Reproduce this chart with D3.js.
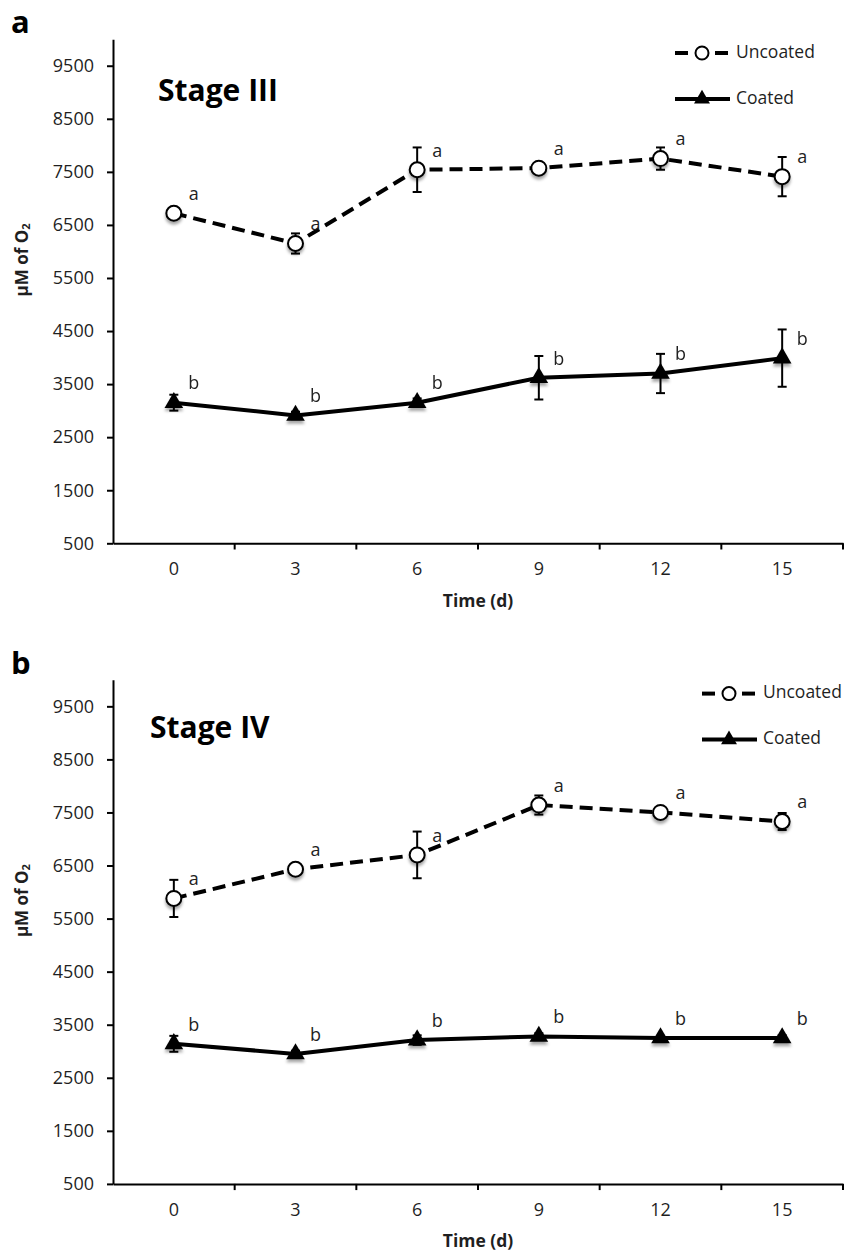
<!DOCTYPE html>
<html lang="en">

<head>
    <meta charset="UTF-8">
    <script src="https://cdnjs.cloudflare.com/ajax/libs/d3/7.8.5/d3.min.js"></script>
    <title>Oxygen - Stage III / IV</title>
    <style>
        body { margin: 0; background: #fff; }
        svg text { font-family: "Open Sans", "DejaVu Sans", sans-serif; }
    </style>
</head>

<body>
    <div id="chart"></div>
    <script>
        // values
        const days = [0, 3, 6, 9, 12, 15];
        const yTicks = [500, 1500, 2500, 3500, 4500, 5500, 6500, 7500, 8500, 9500];

        const stage3Uncoated = [6720, 6150, 7540, 7570, 7750, 7410];
        const stage3UncoatedErr = [50, 190, 420, 50, 210, 370];
        const stage3Coated = [3150, 2910, 3150, 3620, 3700, 3990];
        const stage3CoatedErr = [150, 70, 80, 410, 370, 540];

        const stage4Uncoated = [5880, 6430, 6700, 7640, 7500, 7330];
        const stage4UncoatedErr = [350, 90, 440, 180, 60, 160];
        const stage4Coated = [3140, 2950, 3210, 3280, 3250, 3250];
        const stage4CoatedErr = [150, 60, 90, 60, 40, 50];

        const uncoatedLetters = ["a", "a", "a", "a", "a", "a"];
        const coatedLetters = ["b", "b", "b", "b", "b", "b"];

        const width = 857, height = 1252;
        const txt = "#1f1f1f";

        const svg = d3.select("#chart").append("svg")
            .attr("width", width)
            .attr("height", height)
            .attr("viewBox", [0, 0, width, height]);

        const defs = svg.append("defs");
        defs.append("filter")
            .attr("id", "shadow")
            .attr("x", "-50%").attr("y", "-50%")
            .attr("width", "200%").attr("height", "200%")
            .append("feDropShadow")
            .attr("dx", 0).attr("dy", 3)
            .attr("stdDeviation", 1.6)
            .attr("flood-color", "#000")
            .attr("flood-opacity", 0.35);

        const triangle = d3.symbol().type(d3.symbolTriangle).size(150);

        function drawPanel({ top, letter, title, titleX, titleY, legendX, uncoated, uncoatedErr, coated, coatedErr }) {
            const g = svg.append("g").attr("transform", `translate(0,${top})`);

            const x = d3.scaleBand(days, [113, 843]).padding(0);
            const y = d3.scaleLinear([500, 10000], [543.3, 39.2]);
            const cx = d => x(d) + x.bandwidth() / 2;

            // panel letter + stage title
            g.append("text")
                .attr("x", 11).attr("y", 33)
                .attr("font-family", "Liberation Sans, Arial, sans-serif")
                .attr("font-weight", "bold")
                .attr("font-size", 31)
                .attr("fill", "#000")
                .text(letter);

            g.append("text")
                .attr("x", titleX).attr("y", titleY)
                .attr("font-weight", "bold")
                .attr("font-size", 30)
                .attr("fill", "#000")
                .text(title);

            // y axis
            g.append("g")
                .attr("transform", "translate(113,0)")
                .call(d3.axisLeft(y).tickValues(yTicks).tickFormat(d3.format("d"))
                    .tickSize(6).tickSizeOuter(0).tickPadding(13))
                .call(a => a.select(".domain").attr("stroke", "#000").attr("stroke-width", 2))
                .call(a => a.selectAll(".tick line").attr("stroke", "#000").attr("stroke-width", 2))
                .call(a => a.selectAll(".tick text")
                    .attr("font-size", 18)
                    .attr("font-family", null)
                    .attr("fill", txt));

            // x axis: labels centred in the bands, ticks on the band edges
            g.append("g")
                .attr("transform", "translate(0,543.3)")
                .call(d3.axisBottom(x).tickSize(0).tickSizeOuter(0))
                .call(a => a.select(".domain").attr("stroke", "#000").attr("stroke-width", 2))
                .call(a => a.selectAll(".tick text")
                    .attr("font-size", 18)
                    .attr("font-family", null)
                    .attr("fill", txt)
                    .attr("dy", null)
                    .attr("y", 27)
                    .attr("dominant-baseline", "middle"));

            g.append("g")
                .selectAll("line")
                .data(days.slice(1).map(d => x(d)).concat([x.range()[1]]))
                .join("line")
                .attr("x1", d => d).attr("x2", d => d)
                .attr("y1", 543.3).attr("y2", 549.5)
                .attr("stroke", "#000").attr("stroke-width", 2);

            g.append("text")
                .attr("x", (x.range()[0] + x.range()[1]) / 2)
                .attr("y", 602)
                .attr("text-anchor", "middle")
                .attr("dominant-baseline", "middle")
                .attr("font-weight", "bold")
                .attr("font-size", 17.5)
                .attr("fill", txt)
                .text("Time (d)");

            const yl = g.append("text")
                .attr("transform", "translate(23,260) rotate(-90)")
                .attr("text-anchor", "middle")
                .attr("dominant-baseline", "middle")
                .attr("font-weight", "bold")
                .attr("font-size", 17)
                .attr("fill", txt);
            yl.append("tspan").text("µM of O");
            yl.append("tspan").attr("font-size", 11).attr("dy", 4).text("2");

            // series
            const series = [
                { vals: uncoated, err: uncoatedErr, letters: uncoatedLetters, dash: "13,7", marker: "circle" },
                { vals: coated, err: coatedErr, letters: coatedLetters, dash: null, marker: "triangle" }
            ];

            const line = d3.line()
                .x((d, i) => cx(days[i]))
                .y(d => y(d));

            series.forEach(s => {
                const sg = g.append("g");

                sg.append("path")
                    .attr("d", line(s.vals))
                    .attr("fill", "none")
                    .attr("stroke", "#000")
                    .attr("stroke-width", 4)
                    .attr("stroke-linejoin", "round")
                    .attr("stroke-dasharray", s.dash);

                // error bars
                const eb = sg.append("g")
                    .attr("stroke", "#000")
                    .attr("stroke-width", 2)
                    .selectAll("g")
                    .data(s.vals.map((v, i) => ({ v, e: s.err[i], d: days[i] })))
                    .join("g");
                eb.append("line")
                    .attr("x1", d => cx(d.d)).attr("x2", d => cx(d.d))
                    .attr("y1", d => y(d.v - d.e)).attr("y2", d => y(d.v + d.e));
                eb.append("line")
                    .attr("x1", d => cx(d.d) - 4.5).attr("x2", d => cx(d.d) + 4.5)
                    .attr("y1", d => y(d.v + d.e)).attr("y2", d => y(d.v + d.e));
                eb.append("line")
                    .attr("x1", d => cx(d.d) - 4.5).attr("x2", d => cx(d.d) + 4.5)
                    .attr("y1", d => y(d.v - d.e)).attr("y2", d => y(d.v - d.e));

                // markers
                const mk = sg.append("g").attr("filter", "url(#shadow)");
                if (s.marker === "circle") {
                    mk.selectAll("circle")
                        .data(s.vals)
                        .join("circle")
                        .attr("cx", (d, i) => cx(days[i]))
                        .attr("cy", d => y(d))
                        .attr("r", 7.5)
                        .attr("fill", "#fff")
                        .attr("stroke", "#000")
                        .attr("stroke-width", 2);
                } else {
                    mk.selectAll("path")
                        .data(s.vals)
                        .join("path")
                        .attr("d", triangle)
                        .attr("transform", (d, i) => `translate(${cx(days[i])},${y(d)})`)
                        .attr("fill", "#000");
                }

                // significance letters
                sg.append("g")
                    .selectAll("text")
                    .data(s.vals)
                    .join("text")
                    .attr("x", (d, i) => cx(days[i]) + 20)
                    .attr("y", d => y(d) - 18)
                    .attr("text-anchor", "middle")
                    .attr("dominant-baseline", "middle")
                    .attr("font-size", 18)
                    .attr("fill", txt)
                    .text((d, i) => s.letters[i]);
            });

            // legend
            const lg = g.append("g").attr("transform", `translate(${legendX},0)`);
            lg.append("line")
                .attr("x1", 0).attr("x2", 13).attr("y1", 53).attr("y2", 53)
                .attr("stroke", "#000").attr("stroke-width", 4);
            lg.append("line")
                .attr("x1", 40).attr("x2", 53).attr("y1", 53).attr("y2", 53)
                .attr("stroke", "#000").attr("stroke-width", 4);
            lg.append("circle")
                .attr("cx", 27).attr("cy", 53).attr("r", 6.5)
                .attr("fill", "#fff").attr("stroke", "#000").attr("stroke-width", 2);
            lg.append("text")
                .attr("x", 61).attr("y", 53)
                .attr("dominant-baseline", "middle")
                .attr("font-size", 17.5).attr("fill", txt)
                .text("Uncoated");

            lg.append("line")
                .attr("x1", 0).attr("x2", 55).attr("y1", 99).attr("y2", 99)
                .attr("stroke", "#000").attr("stroke-width", 4);
            lg.append("path")
                .attr("d", d3.symbol().type(d3.symbolTriangle).size(110)())
                .attr("transform", "translate(27,99)")
                .attr("fill", "#000");
            lg.append("text")
                .attr("x", 61).attr("y", 99)
                .attr("dominant-baseline", "middle")
                .attr("font-size", 17.5).attr("fill", txt)
                .text("Coated");
        }

        drawPanel({
            top: 0, letter: "a", title: "Stage III", titleX: 158, titleY: 101,
            legendX: 675,
            uncoated: stage3Uncoated, uncoatedErr: stage3UncoatedErr,
            coated: stage3Coated, coatedErr: stage3CoatedErr
        });

        drawPanel({
            top: 640.6, letter: "b", title: "Stage IV", titleX: 150, titleY: 97.5,
            legendX: 702,
            uncoated: stage4Uncoated, uncoatedErr: stage4UncoatedErr,
            coated: stage4Coated, coatedErr: stage4CoatedErr
        });
    </script>
</body>

</html>
